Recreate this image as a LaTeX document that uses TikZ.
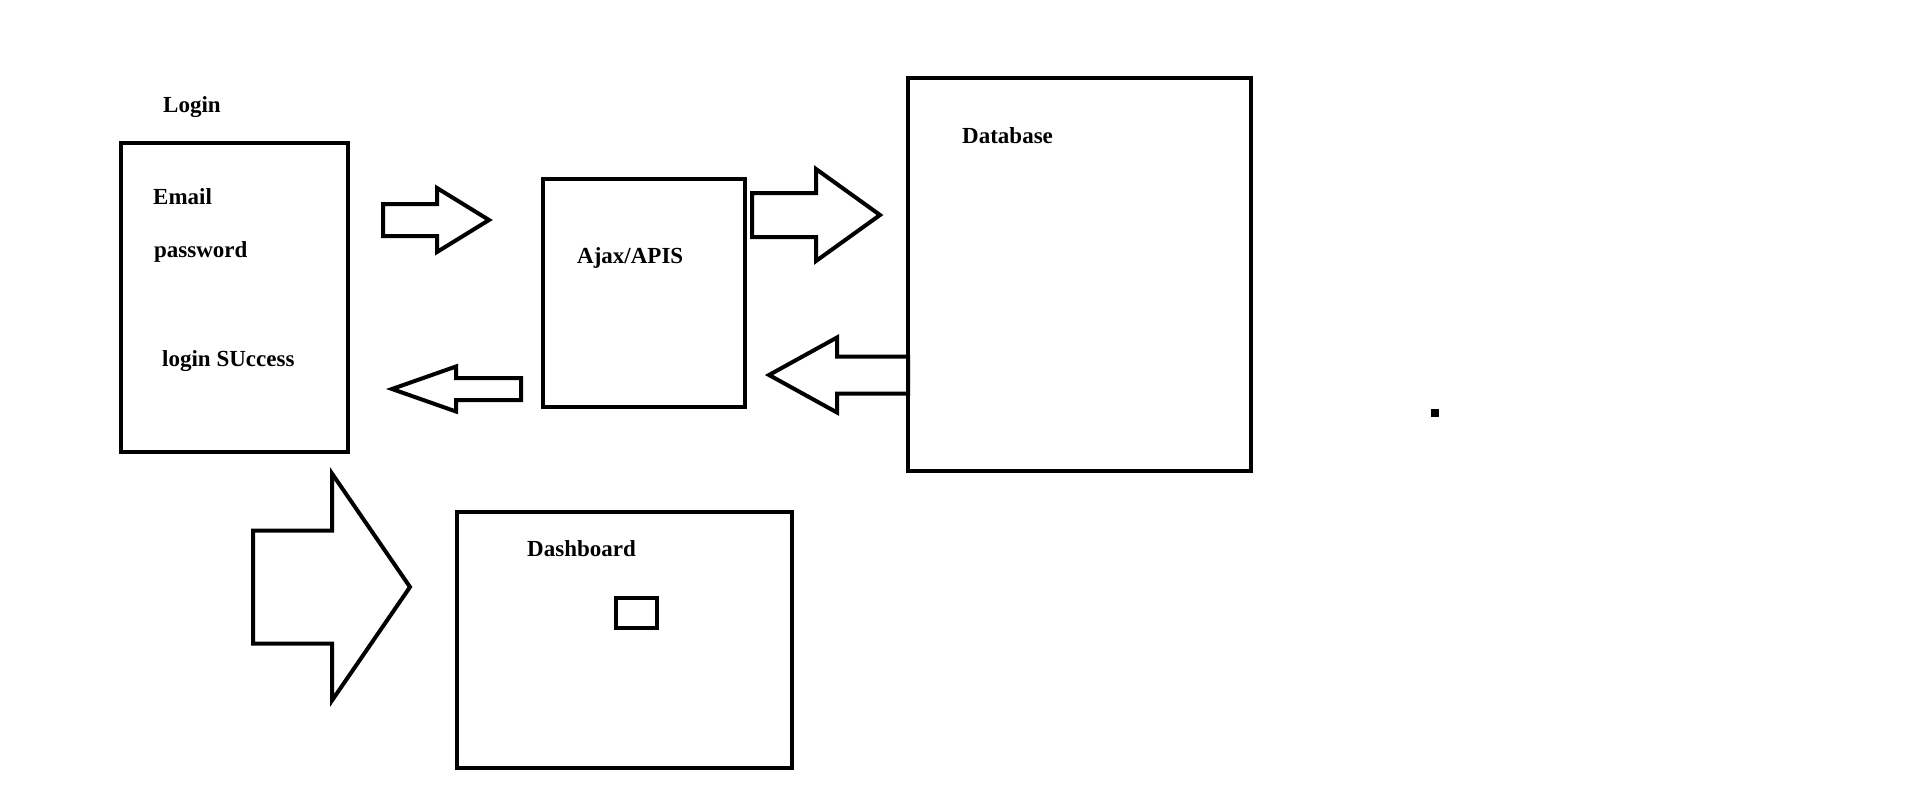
\documentclass[tikz,border=0pt]{standalone}
\usepackage{fontspec}
\setmainfont{Liberation Serif}
\begin{document}
\begin{tikzpicture}[x=1pt, y=-1pt,
    box/.style={draw, line width=4pt, inner sep=0pt, rectangle},
    blockarrow/.style={draw, line width=4pt, line join=miter},
    caption/.style={font=\bfseries\fontsize{23}{28}\selectfont, anchor=base west, inner sep=0pt}]
  % Fix the page to the size of the sketch
  \useasboundingbox (0,0) rectangle (1906,787);

  % Draw the boxes
  \node[box, minimum width=227pt, minimum height=309pt] (login) at (234.5,297.5) {};
  \node[box, minimum width=202pt, minimum height=228pt] (ajax) at (644,293) {};
  \node[box, minimum width=343pt, minimum height=393pt] (database) at (1079.5,274.5) {};
  \node[box, minimum width=335pt, minimum height=256pt] (dashboard) at (624.5,640) {};
  \node[box, minimum width=41pt, minimum height=30pt] (widget) at (636.5,613) {};
  \node[fill, minimum size=8pt, inner sep=0pt] (dot) at (1435,413) {};

  % Add the texts
  \node[caption] (logintitle) at (163,112) {Login};
  \foreach \name/\x/\y/\txt in {email/153/204/Email, password/154/257/password,
                                success/162/366/login SUccess, api/577/263/{Ajax/APIS},
                                db/962/143/Database, dash/527/556/Dashboard} {
    \node[caption] (\name) at (\x,\y) {\txt};
  }

  % Draw the block arrows: tail, head base, tip, middle, shaft and head half widths
  \foreach \tail/\base/\tip/\mid/\shaft/\head in {383/437/489/220/16/32,
                                                  752/816/880/215/22/46,
                                                  908/837/769/375/18.5/37.5,
                                                  521/456/392/389/11/22.5,
                                                  253/332/410/587/56.5/113.5} {
    \draw[blockarrow] (\tail,\mid-\shaft) -- (\base,\mid-\shaft) -- (\base,\mid-\head)
      -- (\tip,\mid) -- (\base,\mid+\head) -- (\base,\mid+\shaft) -- (\tail,\mid+\shaft) -- cycle;
  }
\end{tikzpicture}
\end{document}
